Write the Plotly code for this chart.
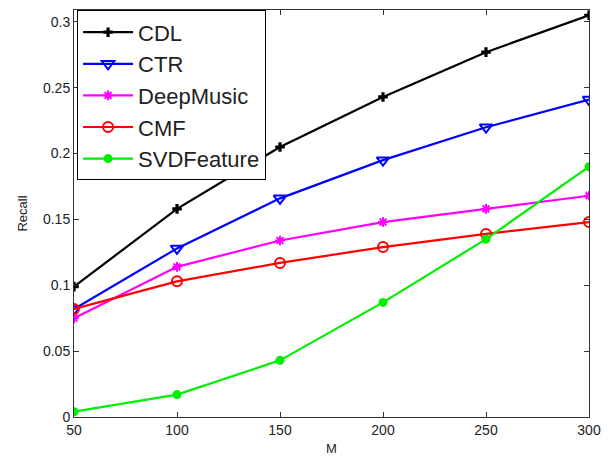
import plotly.graph_objects as go

M = [50, 100, 150, 200, 250, 300]
cdl = [0.099, 0.158, 0.205, 0.243, 0.277, 0.305]
ctr = [0.082, 0.128, 0.166, 0.195, 0.220, 0.241]
deepmusic = [0.075, 0.114, 0.134, 0.148, 0.158, 0.168]
cmf = [0.082, 0.103, 0.117, 0.129, 0.139, 0.148]
svdfeature = [0.004, 0.017, 0.043, 0.087, 0.135, 0.190]

x_ticks = [50, 100, 150, 200, 250, 300]
y_ticks = [0, 0.05, 0.1, 0.15, 0.2, 0.25, 0.3]
y_tick_labels = ["0", "0.05", "0.1", "0.15", "0.2", "0.25", "0.3"]

series = [
    ("CDL", cdl, "#000000", "cross", 8, 0),
    ("CTR", ctr, "#0000ff", "triangle-down-open", 11, 2),
    ("DeepMusic", deepmusic, "#ff00ff", "asterisk-open", 8, 2),
    ("CMF", cmf, "#ff0000", "circle-open", 10, 2),
    ("SVDFeature", svdfeature, "#00ee00", "circle", 9, 0),
]

fig = go.Figure()
for name, vals, color, sym, size, mlw in series:
    fig.add_trace(go.Scatter(
        x=M, y=vals, name=name, mode="lines+markers",
        line=dict(color=color, width=2.2),
        marker=dict(symbol=sym, size=size, color=color,
                    line=dict(color=color, width=mlw)),
    ))

axis_common = dict(
    showline=True, linecolor="#333333", linewidth=1, mirror="ticks",
    ticks="inside", ticklen=5, tickcolor="#333333", showgrid=False,
    zeroline=False, automargin=False,
    tickfont=dict(family="Liberation Sans, Arial", size=14, color="#222222"),
)

# page body adds an 8px offset; margins compensate for it
fig.update_layout(
    width=601, height=448,
    margin=dict(l=66, r=20, t=2, b=39),
    paper_bgcolor="white", plot_bgcolor="white",
    font=dict(family="Liberation Sans, Arial", color="#222222"),
    xaxis=dict(range=[50, 300], tickvals=x_ticks,
               title=dict(text="M", font=dict(size=13), standoff=8), **axis_common),
    yaxis=dict(range=[0, 0.309], tickvals=y_ticks, ticktext=y_tick_labels,
               title=dict(text="Recall", font=dict(size=13), standoff=12), **axis_common),
    legend=dict(x=0.006, y=0.999, xanchor="left", yanchor="top",
                bgcolor="white", bordercolor="#000000", borderwidth=1,
                font=dict(size=22, family="Liberation Sans, Arial", color="#222222"),
                tracegroupgap=0, itemwidth=50),
    showlegend=True,
)

fig.write_html("out.html")
